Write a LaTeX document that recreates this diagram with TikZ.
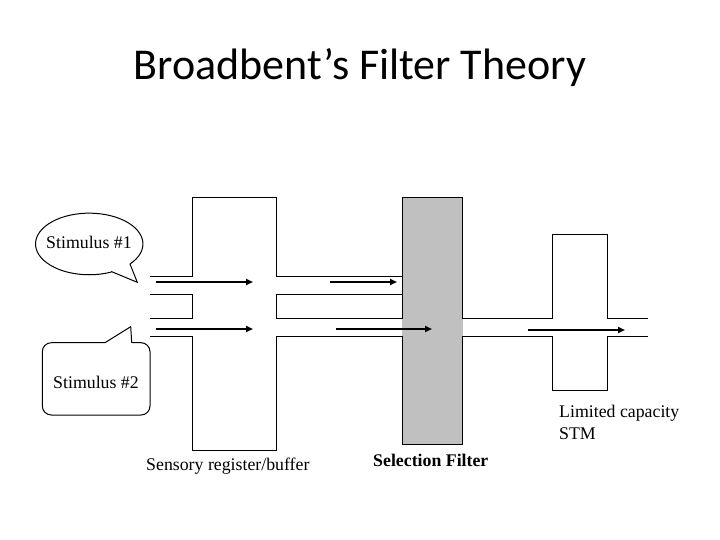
\documentclass[tikz,border=0pt]{standalone}
\usepackage{fontspec}
\setmainfont{Liberation Serif}
\newfontfamily\titlefont{Carlito}
\usetikzlibrary{arrows.meta}
\tikzset{
  outline/.style={draw=black, line width=1pt, line join=miter},
  flow/.style={draw=black, line width=2.4pt, -{Triangle[length=7pt,width=6pt]}, shorten >=-1pt},
  lbl/.style={font=\fontsize{17.8}{20}\selectfont, inner sep=0pt},
}
\begin{document}
\begin{tikzpicture}[x=1pt,y=-1pt]
\useasboundingbox (0,0) rectangle (720,540);
\fill[white] (0,0) rectangle (720,540);
% title
\node[font=\titlefont\fontsize{44}{48}\selectfont, inner sep=0pt] (title) at (360,68) {Broadbent’s Filter Theory};
% filter
\fill[fill={rgb,255:red,192;green,192;blue,192}] (402,198) rectangle (462,444);
\draw[outline] (402,318) -- (402,444) -- (462,444) -- (462,336);
\draw[outline] (402,336) -- (402,198) -- (462,198) -- (462,318);
\fill[fill={rgb,255:red,192;green,192;blue,192}] (401.5,318.5) rectangle (462.5,335.5);
% sensory register outline
\draw[outline] (150,276) -- (192,276) -- (192,198) -- (276,198) -- (276,276) -- (402,276);
\draw[outline] (150,294) -- (192,294) -- (192,318) -- (150,318);
\draw[outline] (402,294) -- (276,294) -- (276,318) -- (402,318);
\draw[outline] (150,336) -- (192,336) -- (192,450) -- (276,450) -- (276,336) -- (402,336);
% STM outline
\draw[outline] (462,318) -- (552,318) -- (552,234) -- (607,234) -- (607,318) -- (648,318);
\draw[outline] (462,336) -- (552,336) -- (552,390) -- (607,390) -- (607,336) -- (648,336);
% arrow coordinates
\coordinate (a1s) at (156,282); \coordinate (a1e) at (252,282);
\coordinate (a2s) at (330,282); \coordinate (a2e) at (396,282);
\coordinate (a3s) at (156,329); \coordinate (a3e) at (252,329);
\coordinate (a4s) at (336,329); \coordinate (a4e) at (431,329);
\coordinate (a5s) at (528,330); \coordinate (a5e) at (624,330);
\draw[flow] (a1s) -- (a1e);
\draw[flow] (a2s) -- (a2e);
\draw[flow] (a3s) -- (a3e);
\draw[flow] (a4s) -- (a4e);
\draw[flow] (a5s) -- (a5e);
% callout 1 (ellipse with tail)
\draw[outline, fill=white] (111.7,271.7) -- (137.3,282.3) -- (130,264)
  arc[start angle=40.6, end angle=-294.2, x radius=53.7, y radius=30.8] -- cycle;
\node[lbl] (s1) at (89,242) {Stimulus \#1};
% callout 2 (rounded rectangle with tail)
\draw[outline, fill=white, rounded corners=9pt] (131.7,342.7) -- (150,342.7) -- (150,415) -- (42.3,415) -- (42.3,342.7) -- (105,342.7);
\draw[outline] (105,342.7) -- (130.7,326.7) -- (131.7,342.7);
\node[lbl] (s2) at (96,382) {Stimulus \#2};
% labels
\node[lbl, anchor=west] (sens) at (146,466) {Sensory register/buffer};
\node[lbl, font=\bfseries\fontsize{17.8}{20}\selectfont, anchor=west] (filt) at (373,460) {Selection Filter};
\node[lbl, anchor=west, align=left, font=\fontsize{17.8}{22}\selectfont] (stm) at (559,422) {Limited capacity\\STM};
\end{tikzpicture}
\end{document}
